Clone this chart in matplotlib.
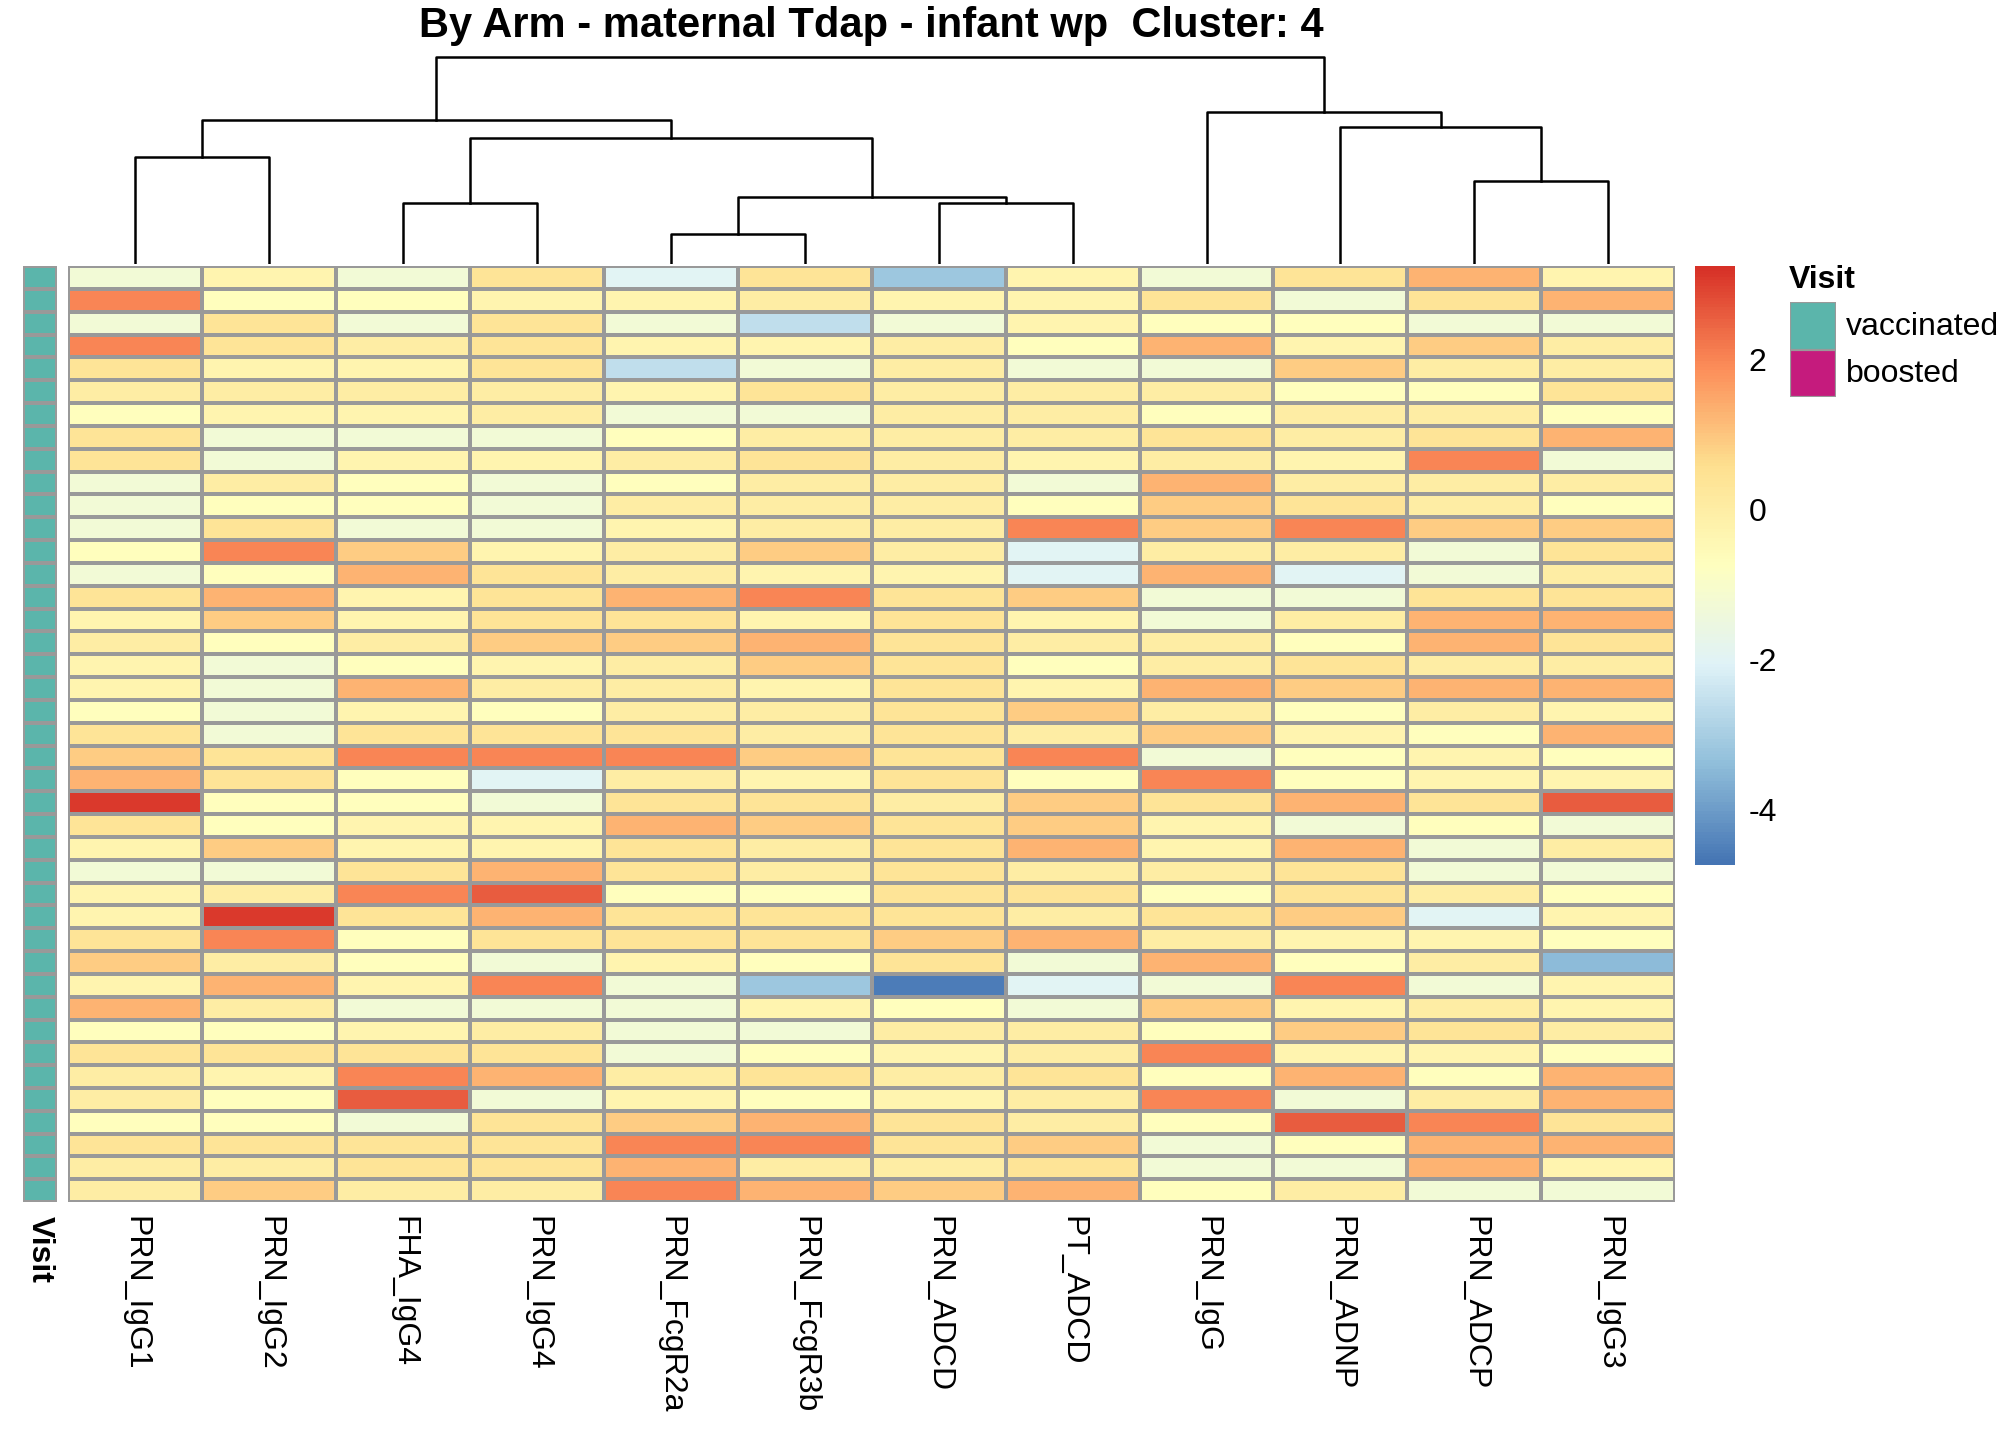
import numpy as np
import matplotlib
matplotlib.use("Agg")
import matplotlib.pyplot as plt
from matplotlib.colors import LinearSegmentedColormap, ListedColormap

plt.rcParams["font.family"] = ["Liberation Sans", "DejaVu Sans"]

title = "By Arm - maternal Tdap - infant wp  Cluster: 4"
features = ["PRN_IgG1", "PRN_IgG2", "FHA_IgG4", "PRN_IgG4", "PRN_FcgR2a", "PRN_FcgR3b",
            "PRN_ADCD", "PT_ADCD", "PRN_IgG", "PRN_ADNP", "PRN_ADCP", "PRN_IgG3"]

# colour codes -> approximate z-scores
code_val = {"N": -4.6, "K": -3.5, "C": -3.2, "B": -2.6, "b": -2.0, "G": -1.3, "Y": -0.7,
            "y": -0.3, "o": 0.0, "O": 0.4, "t": 0.9, "T": 1.3, "R": 2.0, "r": 2.6, "D": 3.1}
rows_codes = [
    "GyGObOCyGOTy", "RYYyyoyyOGOT", "GOGOGBGyYYGG", "ROoOyyoYTyto", "OyyOBGoGGtoo",
    "ooooyOoooYYO", "YyyoGGooYooY", "OGGGYoooOoOT", "OGyyoOoyoyRG", "GoYGYooGTooo",
    "GYYGoooYtOoY", "GOGGyooRtRtt", "YRtyotobooGO", "GYTOoyybTbGo", "OTyOTROtGGOO",
    "ytyOOyOyGoTT", "oYottTOooYTO", "yGYyotOYoOoo", "yGTooyOyTtTT", "YGyYooOtoYoy",
    "OGOOOoOotyYT", "tORRRtORGYyY", "TOYboyOYRYyy", "DYYGOOotOTOr", "OYyyTtOtyGYG",
    "ytyyOoOTyTGo", "GGOTOoOooOGG", "yoRrYYOOYOoY", "yDOTOOOoOtby", "ORYOOOtToyyY",
    "toYGyYOGTYoK", "yTyRGCNbGRGy", "ToGGGyYGtyoy", "YYyoGGooYtOo", "OOOOGYyoRyyY",
    "oyRToOoOYTYT", "oYrGyYyoRGoT", "YYGOtTOoYrRO", "OOOORROtGYTT", "ooOOTooOGGTy",
    "otooRTtTYoGG",
]
values = np.array([[code_val[c] for c in r] for r in rows_codes])
visit = ["vaccinated"] * len(rows_codes)
visit_colors = {"vaccinated": "#5BB5AB", "boosted": "#C51B7D"}

# dendrogram merges: (left, right, height); leaves 0..11, new nodes 12..
merges = [(0, 1, 83), (2, 3, 47), (4, 5, 23), (6, 7, 47), (14, 15, 52), (13, 16, 98),
          (12, 17, 112), (10, 11, 64), (9, 19, 106), (8, 20, 118), (18, 21, 161)]

W, H = 1568, 1120
fig = plt.figure(figsize=(20.16, 14.4), dpi=100)

def ax_at(x0, y0, x1, y1):
    return fig.add_axes([x0 / W, 1 - y1 / H, (x1 - x0) / W, (y1 - y0) / H])

cmap = LinearSegmentedColormap.from_list(
    "rdylbu7", ["#4575B4", "#91BFDB", "#E0F3F8", "#FFFFBF", "#FEE090", "#FC8D59", "#D73027"])
vmin, vmax = -4.75, 3.25
nr, nc = values.shape
fs = 23

ax = ax_at(53, 207, 1303, 935)
ax.pcolormesh(values, cmap=cmap, vmin=vmin, vmax=vmax, edgecolors="#999999", linewidth=1.6)
ax.set_xlim(0, nc)
ax.set_ylim(nr, 0)
ax.set_xticks(np.arange(nc) + 0.5)
ax.set_xticklabels(features, rotation=-90, fontsize=fs)
ax.tick_params(length=0, pad=10)
ax.set_yticks([])
for s in ax.spines.values():
    s.set_visible(False)

# annotation column
axa = ax_at(18, 207, 44, 935)
ann = np.array([[list(visit_colors).index(v)] for v in visit])
axa.pcolormesh(ann, cmap=ListedColormap(list(visit_colors.values())), vmin=0, vmax=1,
               edgecolors="#999999", linewidth=1.6)
axa.set_ylim(nr, 0)
axa.set_xticks([0.5])
axa.set_xticklabels(["Visit"], rotation=-90, fontsize=fs, fontweight="bold")
axa.tick_params(length=0, pad=10)
axa.set_yticks([])
for s in axa.spines.values():
    s.set_visible(False)

# dendrogram
axd = ax_at(53, 40, 1303, 205)
pos = {i: i + 0.5 for i in range(nc)}
hgt = {i: 0 for i in range(nc)}
for k, (a, b, h) in enumerate(merges):
    xa, xb = pos[a], pos[b]
    axd.plot([xa, xa, xb, xb], [hgt[a], h, h, hgt[b]], color="black", lw=1.8)
    pos[nc + k] = (xa + xb) / 2
    hgt[nc + k] = h
axd.set_xlim(0, nc)
axd.set_ylim(0, 165)
axd.axis("off")

# colorbar
axc = ax_at(1318, 207, 1349, 673)
grad = np.linspace(vmax, vmin, 200).reshape(-1, 1)
axc.imshow(grad, aspect="auto", cmap=cmap, vmin=vmin, vmax=vmax, extent=[0, 1, vmin, vmax])
axc.set_xticks([])
axc.yaxis.tick_right()
axc.set_yticks([-4, -2, 0, 2])
axc.set_yticklabels(["-4", "-2", "0", "2"], fontsize=fs)
axc.tick_params(length=0, pad=10)
for s in axc.spines.values():
    s.set_visible(False)

# legend
fig.text(1391 / W, 1 - 218 / H, "Visit", fontsize=fs, fontweight="bold", va="center")
for i, (lab, col) in enumerate(visit_colors.items()):
    y0 = 235 + i * 37
    axl = ax_at(1392, y0, 1428, y0 + 37)
    axl.add_patch(plt.Rectangle((0, 0), 1, 1, facecolor=col, edgecolor="#999999", lw=1.6))
    axl.set_xlim(0, 1)
    axl.set_ylim(0, 1)
    axl.axis("off")
    fig.text(1436 / W, 1 - (y0 + 19) / H, lab, fontsize=fs, va="center")

fig.text(678 / W, 1 - 20 / H, title, fontsize=30, fontweight="bold", ha="center", va="center")

fig.savefig("out.png", dpi=100)
